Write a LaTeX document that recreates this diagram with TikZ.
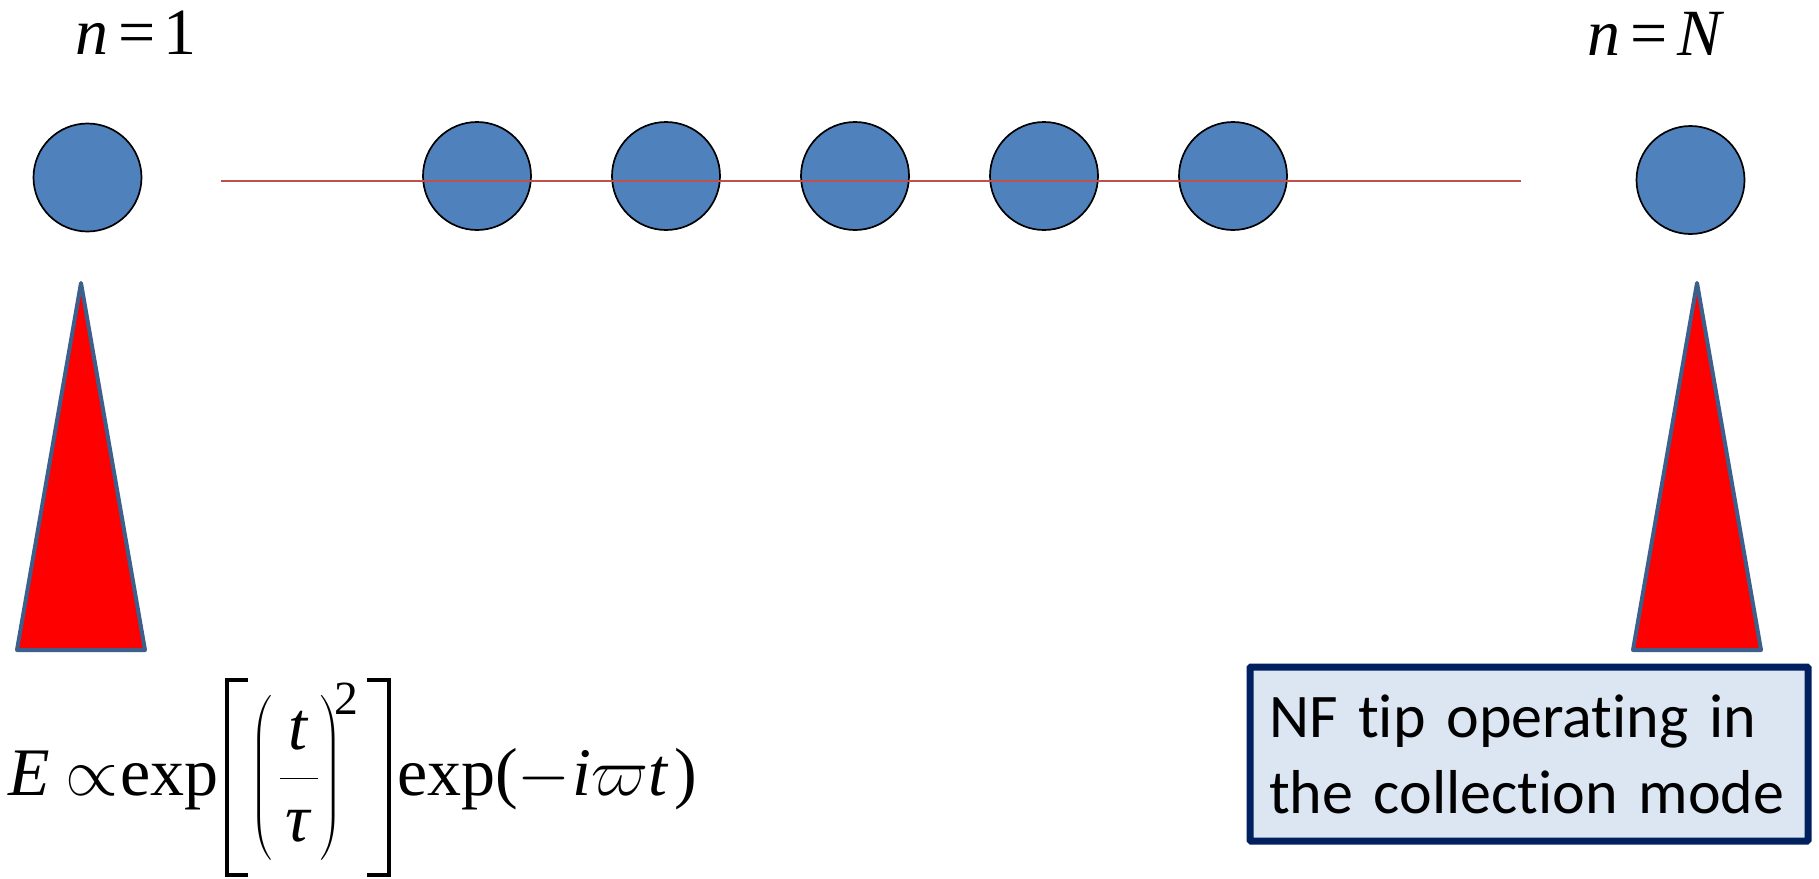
\RequirePackage{fix-cm}
\documentclass[tikz,border=0pt]{standalone}
\usepackage{amsmath}
\usepackage{fontspec}
\setmainfont{Liberation Serif}
\newfontfamily\calib[Ligatures={NoCommon}]{Carlito}
\definecolor{ballblue}{RGB}{79,129,189}
\definecolor{linered}{RGB}{192,80,77}
\definecolor{tipedge}{RGB}{60,95,140}
\definecolor{boxfill}{RGB}{220,230,242}
\definecolor{boxedge}{RGB}{0,32,96}
\newcommand\mylbrk{\makebox[23pt][l]{\raisebox{-82pt}{\rlap{\rule{23pt}{4pt}}\rlap{\raisebox{195pt}{\rule{23pt}{4pt}}}\rule{4pt}{199pt}}}}
\newcommand\myrbrk{\makebox[24pt][r]{\raisebox{-82pt}{\rule{4pt}{199pt}\llap{\rule{24pt}{4pt}}\llap{\raisebox{195pt}{\rule{24pt}{4pt}}}}}}
\begin{document}
\begin{tikzpicture}[x=1pt,y=-1pt,
  ball/.style={circle,fill=ballblue,draw=black,line width=1.7pt,minimum size=108pt,inner sep=0pt},
  tipshape/.style={fill=red,draw=tipedge,line width=4pt,line join=round},
  lbl/.style={anchor=base west,inner sep=0pt,font=\fontsize{66}{70}\selectfont},
  infobox/.style={rectangle,fill=boxfill,draw=boxedge,line width=7pt,rounded corners=1pt,
    minimum width=558pt,minimum height=174pt,text width=520pt,align=left,inner sep=0pt,
    font=\calib\fontsize{62}{76}\selectfont}]
\useasboundingbox (0,0) rectangle (1819,878);
% labels
\node[lbl] (n1) at (75,54) {\textit{n}\hspace{10pt}=\hspace{8pt}1};
\node[lbl] (nN) at (1587,55) {\textit{n}\hspace{10pt}=\hspace{10pt}\textit{N}};
% balls
\node[ball] (b1) at (87.5,177.5) {};
\node[ball] (b2) at (477,176) {};
\node[ball] (b3) at (666,176) {};
\node[ball] (b4) at (855,176) {};
\node[ball] (b5) at (1044,176) {};
\node[ball] (b6) at (1233,176) {};
\node[ball] (bN) at (1690.5,180) {};
% red line
\coordinate (ls) at (221,181);
\coordinate (le) at (1521,181);
\draw[linered,line width=2pt] (ls) -- (le);
% tips
\draw[tipshape] (81,283) -- (145,650) -- (17,650) -- cycle;
\draw[tipshape] (1697,283) -- (1761,650) -- (1633,650) -- cycle;
% formula
\node[anchor=base west,inner sep=0pt,font=\fontsize{68}{80}\selectfont] (eq) at (8,795)
  {\textit{E}\hspace{16pt}$\propto$\hspace{2pt}exp\hspace{6pt}\mylbrk\hspace{3pt}$\left(\rule[-66pt]{0pt}{165pt}\hspace{6pt}\dfrac{\makebox[38pt]{\textit{t}}}{\makebox[38pt]{\textit{τ}}}\hspace{2pt}\right)^{\!\text{2}}$\hspace{8pt}\myrbrk\hspace{6pt}exp($-$\hspace{2pt}\textit{i}$\varpi$\textit{t}\hspace{6pt})};
% box
\node[infobox] (box) at (1529,754) {NF tip operating in\\the collection mode};
\end{tikzpicture}
\end{document}
